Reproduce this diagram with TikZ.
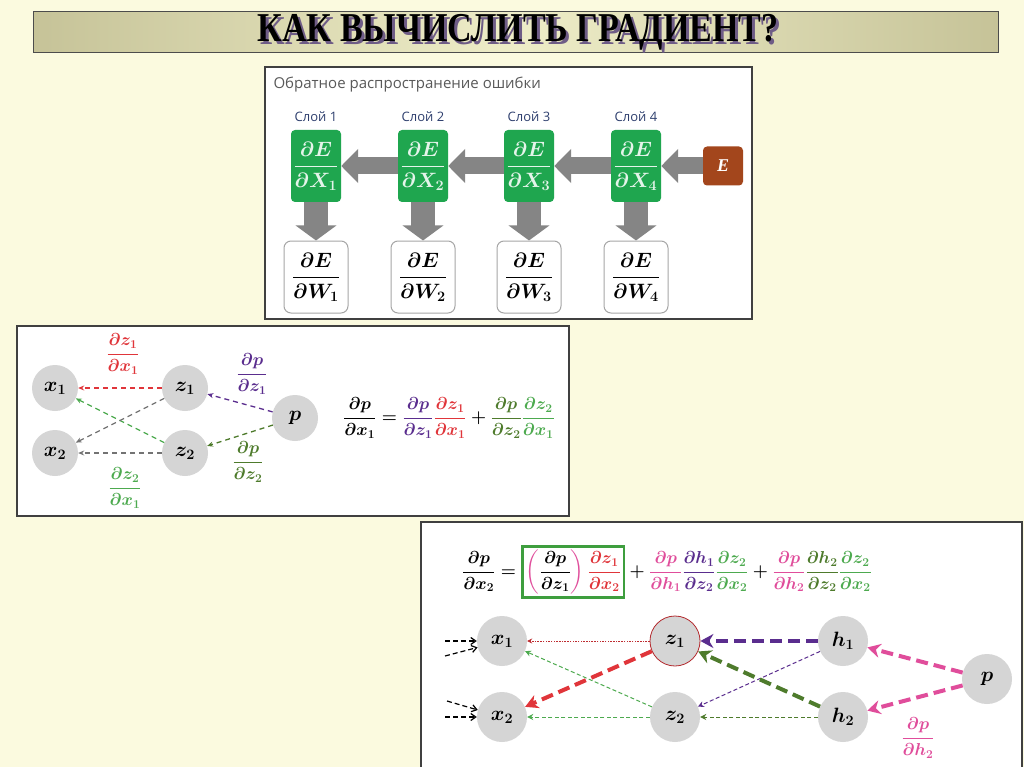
\documentclass[tikz,border=0pt]{standalone}
\usepackage{amsmath}
\usepackage{amssymb}
\usepackage{fontspec}
\setmainfont{Liberation Serif}
\newfontfamily\uifont{Open Sans}
\usetikzlibrary{arrows.meta,positioning}

\definecolor{bgcream}{HTML}{FBFADF}
\definecolor{titleolive}{HTML}{C6C398}
\definecolor{titlelight}{HTML}{EEEDC8}
\definecolor{shadowpurple}{HTML}{6E5C86}
\definecolor{layergreen}{HTML}{1FA64F}
\definecolor{errbrown}{HTML}{A3461C}
\definecolor{arrowgray}{HTML}{858585}
\definecolor{layerblue}{HTML}{2E3F6E}
\definecolor{nodegray}{HTML}{D5D5D5}
\definecolor{dred}{HTML}{E0353A}
\definecolor{dpurple}{HTML}{5A2D8E}
\definecolor{dolive}{HTML}{4E7B2C}
\definecolor{dgreen}{HTML}{4DAA4F}
\definecolor{dpink}{HTML}{E04D9B}
\definecolor{boxgreen}{HTML}{3E9E3E}

\setlength{\fboxrule}{2.5pt}
\setlength{\fboxsep}{2pt}

\newcommand{\titleword}{\scalebox{0.83}[1]{\fontsize{41}{44}\selectfont\bfseries КАК ВЫЧИСЛИТЬ ГРАДИЕНТ?}}
\newcommand{\titletext}{\rlap{\hspace{3pt}\raisebox{-3pt}{\color{shadowpurple}\titleword}}\titleword}

\tikzset{
  panel/.style={draw=black!75,line width=1.5pt,fill=white},
  neuron/.style={circle,fill=nodegray,minimum size=46pt,inner sep=0pt,
    font=\fontsize{20}{24}\selectfont\boldmath},
  bigneuron/.style={neuron,minimum size=50pt},
  layerlabel/.style={text=layerblue,font=\uifont\fontsize{13}{15}\selectfont},
  layerbox/.style={fill=layergreen,rounded corners=4pt,minimum width=50pt,
    minimum height=72pt,inner sep=0pt,text=white!88!layergreen,
    font=\fontsize{21}{24}\selectfont\boldmath},
  gradbox/.style={draw=black!35,line width=1pt,fill=white,rounded corners=7pt,
    minimum width=64pt,minimum height=72pt,inner sep=0pt,
    font=\fontsize{21}{24}\selectfont\boldmath},
  errbox/.style={fill=errbrown,rounded corners=4pt,minimum width=40pt,
    minimum height=39pt,text=white,font=\fontsize{18}{20}\selectfont\bfseries\itshape},
  grayarrow/.style={arrowgray,line width=17pt,-{Triangle[length=17pt,width=33pt]}},
  downarrow/.style={arrowgray,line width=24pt,-{Triangle[length=15pt,width=40pt]}},
  fraclabel/.style={inner sep=0pt,font=\fontsize{17}{21}\selectfont\boldmath},
  eqlabel/.style={inner sep=0pt,font=\fontsize{18.5}{22}\selectfont\boldmath},
  mdash/.style={line width=1.3pt,dash pattern=on 5pt off 4pt,-{Stealth[length=6pt,width=5pt]}},
  thindash/.style={line width=1pt,dash pattern=on 4pt off 2.5pt,-{Stealth[length=6pt,width=6pt]}},
  thickdash/.style={line width=4pt,dash pattern=on 12pt off 6pt,-{Stealth[length=13pt,width=14pt]}},
  inarrow/.style={line width=1.2pt,dash pattern=on 5pt off 3pt,-{Straight Barb[length=5pt,width=7pt]}}
}

\begin{document}
\begin{tikzpicture}[x=1pt,y=-1pt]
\useasboundingbox (0,0) rectangle (1024,767);
\fill[bgcream] (0,0) rectangle (1024,767);

% title bar
\shadedraw[left color=titleolive,right color=titleolive,middle color=titlelight,
  draw=black!70,line width=1pt] (33,12) rectangle (998,53);
\node (title) at (518,34) {\titletext};

% backpropagation panel
\draw[panel,line width=1.2pt] (265,67) rectangle (752,319);
\node[anchor=west,text=black!65,font=\uifont\fontsize{15}{18}\selectfont] (bptitle) at (270,85)
  {Обратное распространение ошибки};
\foreach \i/\xx in {1/316,2/423,3/529,4/636}{
  \node[layerlabel] (lab\i) at (\xx,117) {Слой \i};
  \node[layerbox] (dx\i) at (\xx,166) {$\dfrac{\partial E}{\partial X_{\i}}$};
  \node[gradbox] (dw\i) at (\xx,277) {$\dfrac{\partial E}{\partial W_{\i}}$};
  \draw[downarrow] (dx\i) -- (dw\i);
}
\node[errbox] (err) at (723,166) {E};
\draw[grayarrow] (err) -- (dx4);
\foreach \i/\j in {4/3,3/2,2/1}
  \draw[grayarrow] (dx\i) -- (dx\j);

% chain rule for x1
\draw[panel] (17,326) rectangle (569,516);
\node[neuron] (mx1) at (55,388) {$x_1$};
\node[neuron] (mx2) at (55,453) {$x_2$};
\node[neuron] (mz1) at (185,388) {$z_1$};
\node[neuron] (mz2) at (185,453) {$z_2$};
\node[neuron] (mp) at (295,418) {$p$};
\draw[mdash,dred] (mz1) -- (mx1);
\draw[mdash,dgreen] (mz2) -- (mx1);
\draw[mdash,black!55] (mz1) -- (mx2);
\draw[mdash,black!55] (mz2) -- (mx2);
\draw[mdash,dpurple] (mp) -- (mz1);
\draw[mdash,dolive] (mp) -- (mz2);
\node[fraclabel,text=dred] (lz1x1) at (123,354) {$\dfrac{\partial z_1}{\partial x_1}$};
\node[fraclabel,text=dgreen] (lz2x1) at (125,488) {$\dfrac{\partial z_2}{\partial x_1}$};
\node[fraclabel,text=dpurple] (lpz1) at (252,374) {$\dfrac{\partial p}{\partial z_1}$};
\node[fraclabel,text=dolive] (lpz2) at (248,462) {$\dfrac{\partial p}{\partial z_2}$};
\node[fraclabel] (meq) at (449,418)
  {$\dfrac{\partial p}{\partial x_1}=
   {\color{dpurple}\dfrac{\partial p}{\partial z_1}}
   {\color{dred}\dfrac{\partial z_1}{\partial x_1}}+
   {\color{dolive}\dfrac{\partial p}{\partial z_2}}
   {\color{dgreen}\dfrac{\partial z_2}{\partial x_1}}$};

% chain rule for x2
\draw[panel] (421,522) rectangle (1022,790);
\node[eqlabel] (beq) at (667,572)
  {$\dfrac{\partial p}{\partial x_2}=
   \fcolorbox{boxgreen}{white}{$\displaystyle
     \color{dpink}\left(\color{black}\dfrac{\partial p}{\partial z_1}\color{dpink}\right)
     {\color{dred}\dfrac{\partial z_1}{\partial x_2}}$}+
   {\color{dpink}\dfrac{\partial p}{\partial h_1}}
   {\color{dpurple}\dfrac{\partial h_1}{\partial z_2}}
   {\color{dgreen}\dfrac{\partial z_2}{\partial x_2}}+
   {\color{dpink}\dfrac{\partial p}{\partial h_2}}
   {\color{dolive}\dfrac{\partial h_2}{\partial z_2}}
   {\color{dgreen}\dfrac{\partial z_2}{\partial x_2}}$};
\node[bigneuron] (bx1) at (502,641) {$x_1$};
\node[bigneuron] (bx2) at (502,717) {$x_2$};
\node[bigneuron,draw=dred!80!black,line width=0.8pt] (bz1) at (675,641) {$z_1$};
\node[bigneuron] (bz2) at (675,717) {$z_2$};
\node[bigneuron] (bh1) at (843,641) {$h_1$};
\node[bigneuron] (bh2) at (843,717) {$h_2$};
\node[bigneuron] (bp) at (987,679) {$p$};
\coordinate (in1a) at (445,641);
\coordinate (in1b) at (445,656);
\coordinate (in2a) at (445,717);
\coordinate (in2b) at (447,701);
\draw[inarrow] (in1a) -- (bx1);
\draw[inarrow] (in1b) -- (bx1);
\draw[inarrow] (in2a) -- (bx2);
\draw[inarrow] (in2b) -- (bx2);
\draw[line width=0.7pt,dash pattern=on 1.5pt off 1.2pt,dred!85!black,
  -{Stealth[length=5pt,width=5pt]}] (bz1) -- (bx1);
\draw[thindash,dgreen] (bz2) -- (bx1);
\draw[thindash,dgreen] (bz2) -- (bx2);
\draw[thindash,dpurple] (bh1) -- (bz2);
\draw[thindash,dolive] (bh2) -- (bz2);
\draw[thickdash,dred] (bz1) -- (bx2);
\draw[thickdash,dpurple] (bh1) -- (bz1);
\draw[thickdash,dolive] (bh2) -- (bz1);
\draw[thickdash,dpink] (bp) -- (bh1);
\draw[thickdash,dpink] (bp) -- (bh2);
\node[fraclabel,text=dpink] (lph2) at (918,738) {$\dfrac{\partial p}{\partial h_2}$};
\end{tikzpicture}
\end{document}
